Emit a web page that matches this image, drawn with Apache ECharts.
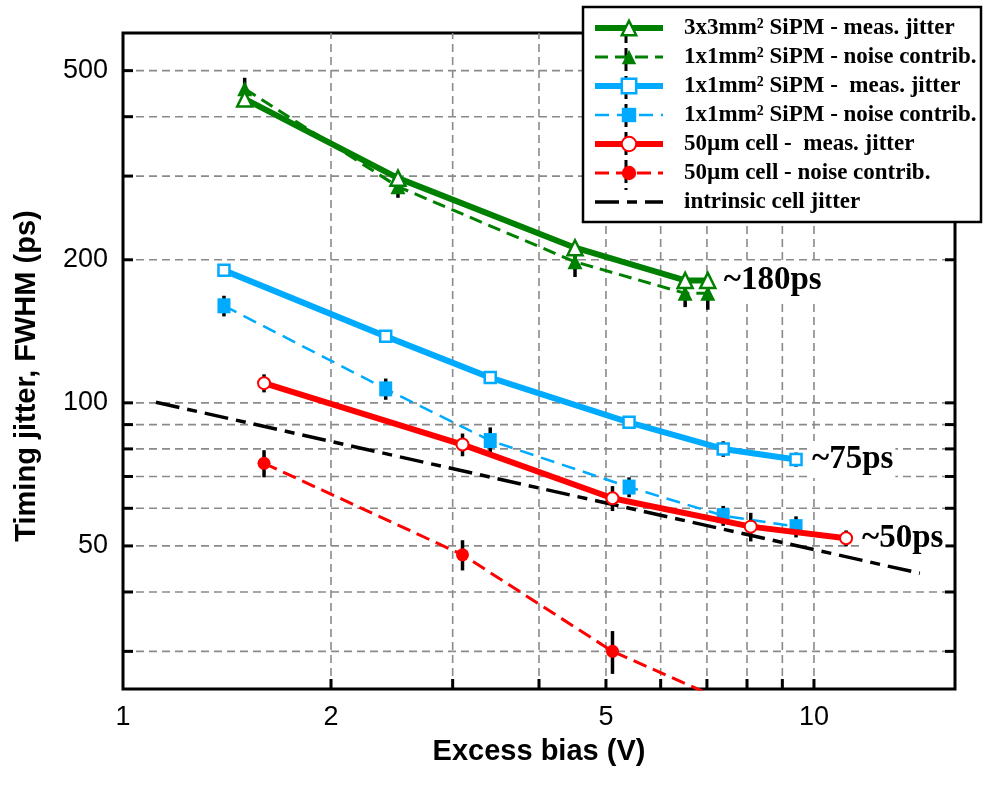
<!DOCTYPE html>
<html><head><meta charset="utf-8">
<script src="https://cdn.jsdelivr.net/npm/echarts@6/dist/echarts.min.js"></script>
<style>html,body{margin:0;padding:0;background:#fff}#c{width:984px;height:795px}</style>
</head><body><div id="c"></div>
<script>
// ---- data ----
const biasGreen = [1.50, 2.50, 4.51, 6.51, 7.02];
const greenMeas = [436, 297, 212, 181, 181];
const greenMeasErr = [0, 0, 0, 0, 0];
const greenNoise = [458, 285, 198, 170, 170];
const greenNoiseErr = [25, 15, 14, 11, 13];

const biasBlue = [1.40, 2.40, 3.40, 5.40, 7.39, 9.42];
const blueMeas = [190, 138, 113, 91, 80, 76];
const blueMeasErr = [0, 0, 0, 0, 3, 2.6];
const blueNoise = [160, 107, 83.3, 66.5, 57.9, 54.9];
const blueNoiseErr = [8, 5.5, 5.5, 3.2, 2.8, 2.8];

const biasRed = [1.60, 3.10, 5.11, 8.10, 11.13];
const redMeas = [110, 81.7, 63, 54.9, 51.9];
const redMeasErr = [4.8, 4.5, 3.8, 3.8, 2];
const biasRedNoise = [1.60, 3.10, 5.11, 8.10];
const redNoise = [74.6, 47.9, 30.0, 22.3];
const redNoiseErr = [4.9, 3.5, 3.1, 0];

const biasIntrinsic = [1.116, 14.23];
const intrinsic = [100.3, 43.8];

const seriesNames = [
  '3x3mm\u00b2 SiPM - meas. jitter',
  '1x1mm\u00b2 SiPM - noise contrib.',
  '1x1mm\u00b2 SiPM -  meas. jitter',
  '1x1mm\u00b2 SiPM - noise contrib. ',
  '50\u00b5m cell -  meas. jitter',
  '50\u00b5m cell - noise contrib.',
  'intrinsic cell jitter'
];
const annotations = ['~180ps', '~75ps', '~50ps'];

const xGridVals = [2, 3, 4, 5, 6, 7, 8, 9, 10];
const xTickVals = [2, 3, 4, 5, 6, 7, 8, 9, 10];
const xLabelVals = [1, 2, 5, 10];
const yGridVals = [30, 40, 50, 60, 70, 80, 90, 100, 200, 300, 400, 500];
const yTickVals = [30, 40, 50, 60, 70, 80, 90, 100, 200, 300, 400, 500];
const yLabelVals = [50, 100, 200, 500];

const X_MIN = 1, X_MAX = 16, Y_MIN = 25, Y_MAX = 600;

// ---- styling ----
const GREEN = '#008000', BLUE = '#00AAFF', RED = '#FF0000';
const zip = (xs, ys) => xs.map((x, i) => [x, ys[i]]);
const zip3 = (xs, ys, es) => xs.map((x, i) => [x, ys[i], es[i]]);

function errRender(params, api) {
  const x = api.value(0), y = api.value(1), e = api.value(2);
  if (!e) return null;
  const a = api.coord([x, y + e]), b = api.coord([x, y - e]);
  return {type: 'line', shape: {x1: a[0], y1: a[1], x2: b[0], y2: b[1]},
          style: {stroke: '#000', lineWidth: 3.5}};
}
function errSeries(xs, ys, es) {
  return {type: 'custom', renderItem: errRender, data: zip3(xs, ys, es),
          encode: {x: 0, y: 1}, z: 3, silent: true, clip: true};
}
const gridStyle = {stroke: '#8a8a8a', lineWidth: 1.6, lineDash: [8, 5]};
function xGridRender(params, api) {
  const v = api.value(0);
  const a = api.coord([v, Y_MIN]), b = api.coord([v, Y_MAX]);
  return {type: 'line', shape: {x1: a[0], y1: a[1], x2: b[0], y2: b[1]}, style: gridStyle};
}
function yGridRender(params, api) {
  const v = api.value(1);
  const a = api.coord([X_MIN, v]), b = api.coord([X_MAX, v]);
  return {type: 'line', shape: {x1: a[0], y1: a[1], x2: b[0], y2: b[1]}, style: gridStyle};
}
const TICK = 10;
const tickStyle = {stroke: '#000', lineWidth: 3};
function xTickRender(params, api) {
  const v = api.value(0);
  const a = api.coord([v, Y_MIN]);
  return {type: 'line', shape: {x1: a[0], y1: a[1], x2: a[0], y2: a[1] - TICK}, style: tickStyle};
}
function yTickRender(params, api) {
  const v = api.value(1);
  const a = api.coord([X_MIN, v]), b = api.coord([X_MAX, v]);
  return {type: 'group', children: [
    {type: 'line', shape: {x1: a[0], y1: a[1], x2: a[0] + TICK, y2: a[1]}, style: tickStyle},
    {type: 'line', shape: {x1: b[0] - TICK, y1: b[1], x2: b[0], y2: b[1]}, style: tickStyle}
  ]};
}
const labelFont = '27px "Liberation Sans"';
function xLabelRender(params, api) {
  const v = api.value(0);
  const a = api.coord([v, Y_MIN]);
  return {type: 'text', x: a[0], y: a[1] + 29,
          style: {text: String(v), fill: '#000', font: labelFont, align: 'center', verticalAlign: 'middle'}};
}
function yLabelRender(params, api) {
  const v = api.value(1);
  const a = api.coord([X_MIN, v]);
  return {type: 'text', x: a[0] - 15, y: a[1],
          style: {text: String(v), fill: '#000', font: labelFont, align: 'right', verticalAlign: 'middle'}};
}
function helper(render, data, z) {
  return {type: 'custom', renderItem: render, data: data, encode: {x: 0, y: 1}, z: z, silent: true, clip: false};
}
function annot(text) {
  return {show: true, formatter: text, color: '#000', fontFamily: 'Liberation Serif', fontWeight: 'bold',
          fontSize: 33, distance: 14, backgroundColor: '#fff', padding: [2, 2, 2, 2]};
}

const legendData = seriesNames.map((n, i) =>
  i === 6 ? {name: n, itemStyle: {opacity: 0}} : {name: n});

const chart = echarts.init(document.getElementById('c'), null, {renderer: 'canvas'});
chart.setOption({
  animation: false,
  backgroundColor: '#fff',
  grid: {left: 123, right: 29, top: 33, bottom: 106, show: true, borderColor: '#000', borderWidth: 3,
         backgroundColor: '#fff', containLabel: false, outerBoundsMode: 'none'},
  xAxis: {type: 'log', logBase: 10, min: X_MIN, max: X_MAX,
          axisLine: {show: false}, axisTick: {show: false}, axisLabel: {show: false}, splitLine: {show: false},
          name: 'Excess bias (V)', nameLocation: 'middle', nameGap: 48,
          nameTextStyle: {color: '#000', fontFamily: 'Liberation Sans', fontWeight: 'bold', fontSize: 29}},
  yAxis: {type: 'log', logBase: 10, min: Y_MIN, max: Y_MAX,
          axisLine: {show: false}, axisTick: {show: false}, axisLabel: {show: false}, splitLine: {show: false},
          name: 'Timing jitter, FWHM (ps)', nameLocation: 'middle', nameGap: 82, nameRotate: 90,
          nameTextStyle: {color: '#000', fontFamily: 'Liberation Sans', fontWeight: 'bold', fontSize: 29,
                          padding: [0, 30, 0, 0]}},
  legend: {orient: 'vertical', left: 592, top: 16, padding: 0, itemWidth: 68, itemHeight: 18, itemGap: 5,
           z: 20, selectedMode: false, data: legendData,
           lineStyle: {width: 'inherit'}, itemStyle: {borderWidth: 'inherit'},
           textStyle: {color: '#000', fontFamily: 'Liberation Serif', fontWeight: 'bold', fontSize: 23,
                       lineHeight: 24, padding: [0, 0, 0, 16]}},
  graphic: [
    {type: 'rect', z: 10, shape: {x: 583, y: 7, width: 398, height: 215},
     style: {fill: '#fff', stroke: '#000', lineWidth: 2.5}},
    {type: 'line', z: 11, shape: {x1: 626, y1: 34, x2: 626, y2: 190},
     style: {stroke: '#000', lineWidth: 3, lineDash: [9, 5]}}
  ],
  series: [
    helper(xGridRender, xGridVals.map(v => [v, Y_MIN]), 1),
    helper(yGridRender, yGridVals.map(v => [X_MIN, v]), 1),
    helper(xTickRender, xTickVals.map(v => [v, Y_MIN]), 2),
    helper(yTickRender, yTickVals.map(v => [X_MIN, v]), 2),
    helper(xLabelRender, xLabelVals.map(v => [v, Y_MIN]), 2),
    helper(yLabelRender, yLabelVals.map(v => [X_MIN, v]), 2),
    errSeries(biasGreen, greenNoise, greenNoiseErr),
    errSeries(biasGreen, greenMeas, greenMeasErr),
    errSeries(biasBlue, blueMeas, blueMeasErr),
    errSeries(biasBlue, blueNoise, blueNoiseErr),
    errSeries(biasRed, redMeas, redMeasErr),
    errSeries(biasRedNoise, redNoise, redNoiseErr),
    {name: seriesNames[6], type: 'line', data: zip(biasIntrinsic, intrinsic), z: 4, symbol: 'none',
     lineStyle: {color: '#000', width: 3.5, type: [24, 8, 10, 8]}, itemStyle: {color: '#000'}},
    {name: seriesNames[1], type: 'line', data: zip(biasGreen, greenNoise), z: 5,
     symbol: 'triangle', symbolSize: [15, 15],
     lineStyle: {color: GREEN, width: 3, type: [13, 7]}, itemStyle: {color: GREEN}},
    {name: seriesNames[0], type: 'line', data: zip(biasGreen, greenMeas), z: 6,
     symbol: 'triangle', symbolSize: [15, 15],
     lineStyle: {color: GREEN, width: 6}, itemStyle: {color: '#fff', borderColor: GREEN, borderWidth: 2.5},
     endLabel: annot(annotations[0])},
    {name: seriesNames[3], type: 'line', data: zip(biasBlue, blueNoise), z: 5,
     symbol: 'rect', symbolSize: [13, 15],
     lineStyle: {color: BLUE, width: 2.5, type: [14, 8]}, itemStyle: {color: BLUE}},
    {name: seriesNames[2], type: 'line', data: zip(biasBlue, blueMeas), z: 6,
     symbol: 'rect', symbolSize: 11,
     lineStyle: {color: BLUE, width: 6}, itemStyle: {color: '#fff', borderColor: BLUE, borderWidth: 2.5},
     endLabel: annot(annotations[1])},
    {name: seriesNames[5], type: 'line', data: zip(biasRedNoise, redNoise), z: 5,
     symbol: 'circle', symbolSize: 13,
     lineStyle: {color: RED, width: 3, type: [14, 7]}, itemStyle: {color: RED}},
    {name: seriesNames[4], type: 'line', data: zip(biasRed, redMeas), z: 6,
     symbol: 'circle', symbolSize: 12,
     lineStyle: {color: RED, width: 6}, itemStyle: {color: '#fff', borderColor: RED, borderWidth: 2},
     endLabel: annot(annotations[2])}
  ]
});
</script></body></html>
